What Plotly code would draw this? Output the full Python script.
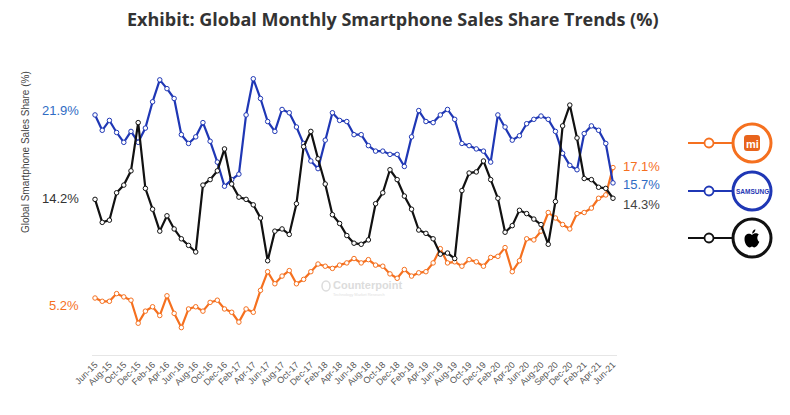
import plotly.graph_objects as go

# figure sized to fit inside the 790x415 window with the page's default 8px body margin
OFF = 8
W, H = 790 - 2 * OFF, 415 - 2 * OFF

# ---------------- data ----------------
months = []
mnames = ["Jan", "Feb", "Mar", "Apr", "May", "Jun", "Jul", "Aug", "Sep", "Oct", "Nov", "Dec"]
for k in range(73):
    m = (5 + k) % 12
    y = 15 + (5 + k) // 12
    months.append(f"{mnames[m]}-{y}")

tick_labels = ["Jun-15", "Aug-15", "Oct-15", "Dec-15", "Feb-16", "Apr-16", "Jun-16", "Aug-16",
               "Oct-16", "Dec-16", "Feb-17", "Apr-17", "Jun-17", "Aug-17", "Oct-17", "Dec-17",
               "Feb-18", "Apr-18", "Jun-18", "Aug-18", "Oct-18", "Dec-18", "Feb-19", "Apr-19",
               "Jun-19", "Aug-19", "Oct-19", "Dec-19", "Feb-20", "Apr-20", "Jun-20", "Aug-20",
               "Sep-20", "Dec-20", "Feb-21", "Apr-21", "Jun-21"]

samsung = [21.9, 20.5, 21.4, 20.3, 19.4, 20.4, 19.4, 20.7, 23.1, 25.1, 24.3, 23.4, 20.1,
           19.3, 19.9, 21.2, 19.5, 17.6, 15.4, 16.0, 16.5, 21.9, 25.2, 23.4, 21.3, 20.4,
           22.4, 22.1, 20.8, 19.3, 17.7, 17.0, 19.6, 22.1, 21.4, 21.3, 20.1, 20.1, 19.1,
           18.6, 18.6, 18.3, 18.3, 17.2, 19.9, 22.3, 21.3, 21.2, 21.9, 22.4, 21.5, 19.3,
           19.1, 18.8, 18.6, 17.6, 21.9, 20.8, 19.6, 20.0, 21.1, 21.5, 21.8, 21.5, 20.4,
           18.4, 17.3, 16.9, 20.2, 20.9, 20.5, 19.3, 15.7]

apple = [14.2, 12.1, 12.3, 14.8, 15.5, 16.8, 21.2, 15.2, 13.3, 11.3, 12.7, 11.5, 10.6,
         10.0, 9.4, 15.5, 16.0, 16.8, 18.8, 15.6, 14.4, 14.2, 13.7, 12.5, 8.6, 11.3,
         11.5, 11.0, 13.8, 19.0, 20.4, 17.9, 15.6, 12.8, 12.0, 10.9, 10.2, 10.1, 10.5,
         13.8, 14.8, 16.9, 16.0, 14.5, 13.3, 11.4, 11.1, 10.6, 9.2, 9.3, 8.8, 15.0,
         16.6, 16.7, 17.7, 16.0, 14.3, 11.2, 11.8, 13.2, 12.9, 12.4, 11.9, 10.1, 14.0,
         20.9, 22.8, 19.8, 16.1, 16.0, 15.3, 15.2, 14.3]

xiaomi = [5.2, 4.9, 4.9, 5.6, 5.3, 5.0, 2.9, 4.0, 4.4, 3.6, 5.4, 3.8, 2.5,
          4.2, 4.4, 4.0, 4.8, 5.0, 4.2, 3.9, 3.0, 4.2, 3.9, 5.9, 7.6, 6.5,
          7.2, 7.7, 6.5, 6.9, 7.6, 8.3, 8.1, 7.9, 8.2, 8.4, 8.8, 8.4, 8.7,
          8.2, 8.1, 7.4, 7.0, 7.8, 7.2, 7.5, 7.6, 8.4, 9.7, 8.4, 8.5, 8.1,
          8.7, 8.5, 8.1, 8.9, 9.0, 9.8, 7.6, 8.6, 10.6, 10.5, 11.3, 13.0, 12.5,
          11.9, 11.5, 12.9, 13.0, 13.4, 14.3, 14.6, 17.1]

# ---------------- style ----------------
BLUE = "#1f37b5"
BLACK = "#111111"
ORANGE = "#f5701f"
BLUE_TXT = "#2f6cc4"
GRAY_TXT = "#333333"

# plot area in window pixels
PL, PR, PT, PB = 92, 617, 70, 355


def fx(px):
    return (px - OFF) / W


def fy(py):
    return 1 - (py - OFF) / H


fig = go.Figure()

for name, vals, col in [("Xiaomi", xiaomi, ORANGE), ("Samsung", samsung, BLUE), ("Apple", apple, BLACK)]:
    fig.add_trace(go.Scatter(
        x=months, y=vals, mode="lines+markers", name=name,
        line=dict(color=col, width=2.2),
        marker=dict(symbol="circle", size=4.5, color="white", line=dict(color=col, width=1)),
        showlegend=False, hoverinfo="x+y+name",
    ))

fig.update_layout(
    width=W, height=H,
    margin=dict(l=0, r=0, t=0, b=0, pad=0),
    paper_bgcolor="white", plot_bgcolor="white",
    xaxis=dict(
        domain=[fx(PL), fx(PR)], type="category", range=[-0.42, 72.56],
        tickmode="array", tickvals=months[::2], ticktext=tick_labels,
        tickangle=-45, tickfont=dict(family="Liberation Sans, Arial", size=9, color="#555555"),
        showgrid=False, zeroline=False, showline=True, linecolor="#e6e6e6", linewidth=1,
        ticks="", automargin=False,
    ),
    yaxis=dict(
        domain=[fy(PB), fy(PT)], range=[0, 26], showticklabels=False,
        showgrid=False, zeroline=False, showline=False, ticks="", automargin=False,
    ),
    font=dict(family="Liberation Sans, Arial"),
)

ann = []
# title
ann.append(dict(x=fx(393), y=fy(19), xref="paper", yref="paper",
                text="<b>Exhibit: Global Monthly Smartphone Sales Share Trends (%)</b>",
                showarrow=False, font=dict(family="Open Sans", size=18, color="#333333"),
                xanchor="center", yanchor="middle"))
# y axis title
ann.append(dict(x=fx(25), y=fy(152), xref="paper", yref="paper",
                text="Global Smartphone Sales Share (%)", textangle=-90,
                showarrow=False, font=dict(size=10, color="#444444"),
                xanchor="center", yanchor="middle"))
# start values
for txt, py, col in [(f"{samsung[0]}%", 110, BLUE_TXT), (f"{apple[0]}%", 198, GRAY_TXT), (f"{xiaomi[0]}%", 305, ORANGE)]:
    ann.append(dict(x=fx(81), y=fy(py), xref="paper", yref="paper", text=txt, showarrow=False,
                    font=dict(size=13, color=col), xanchor="right", yanchor="middle"))
# end values
for txt, py, col in [(f"{xiaomi[-1]}%", 166, ORANGE), (f"{samsung[-1]}%", 185, BLUE_TXT), (f"{apple[-1]}%", 204, "#444444")]:
    ann.append(dict(x=fx(621), y=fy(py), xref="paper", yref="paper", text=txt, showarrow=False,
                    font=dict(size=13, color=col), xanchor="left", yanchor="middle"))
# watermark
ann.append(dict(x=fx(331), y=fy(285), xref="paper", yref="paper", text="<b>Counterpoint</b>",
                showarrow=False, font=dict(size=11, color="#dcdcdc"), xanchor="left", yanchor="middle"))
ann.append(dict(x=fx(331), y=fy(294), xref="paper", yref="paper", text="Technology Market Research",
                showarrow=False, font=dict(size=4, color="#e2e2e2"), xanchor="left", yanchor="middle"))

shapes = []
# watermark icon
shapes.append(dict(type="circle", xref="paper", yref="paper",
                   x0=fx(322), x1=fx(330), y0=fy(281), y1=fy(291),
                   line=dict(color="#dcdcdc", width=1.5)))

# legend-like logo markers
legend_rows = [(143, ORANGE), (191, BLUE), (238, BLACK)]
for cy, col in legend_rows:
    shapes.append(dict(type="line", xref="paper", yref="paper", x0=fx(688), x1=fx(734), y0=fy(cy), y1=fy(cy),
                       line=dict(color=col, width=2)))
    shapes.append(dict(type="circle", xref="paper", yref="paper", x0=fx(704.5), x1=fx(713.5),
                       y0=fy(cy - 4.5), y1=fy(cy + 4.5), fillcolor="white", line=dict(color=col, width=1.8)))
    shapes.append(dict(type="circle", xref="paper", yref="paper", x0=fx(733), x1=fx(771),
                       y0=fy(cy - 19), y1=fy(cy + 19), fillcolor="white", line=dict(color=col, width=3)))

# Xiaomi logo (rounded square)
cx, cy = 752, 143
s = 8
r = 3
path = (f"M {fx(cx-s+r)},{fy(cy-s)} L {fx(cx+s-r)},{fy(cy-s)} Q {fx(cx+s)},{fy(cy-s)} {fx(cx+s)},{fy(cy-s+r)} "
        f"L {fx(cx+s)},{fy(cy+s-r)} Q {fx(cx+s)},{fy(cy+s)} {fx(cx+s-r)},{fy(cy+s)} "
        f"L {fx(cx-s+r)},{fy(cy+s)} Q {fx(cx-s)},{fy(cy+s)} {fx(cx-s)},{fy(cy+s-r)} "
        f"L {fx(cx-s)},{fy(cy-s+r)} Q {fx(cx-s)},{fy(cy-s)} {fx(cx-s+r)},{fy(cy-s)} Z")
shapes.append(dict(type="path", xref="paper", yref="paper", path=path, fillcolor="#e8641c",
                   line=dict(width=0)))
ann.append(dict(x=fx(752), y=fy(143.5), xref="paper", yref="paper", text="<b>mi</b>", showarrow=False,
                font=dict(size=11, color="white"), xanchor="center", yanchor="middle"))

# Samsung wordmark
ann.append(dict(x=fx(752), y=fy(191), xref="paper", yref="paper", text="<b>SAMSUNG</b>", showarrow=False,
                font=dict(size=6.5, color=BLUE), xanchor="center", yanchor="middle"))

# Apple logo
ax, ay = 752, 239


def P(dx, dy):
    return f"{fx(ax + dx):.5f},{fy(ay + dy):.5f}"


apple_path = (f"M {P(0,-4)} C {P(-2,-6)} {P(-7.5,-6)} {P(-7.5,0)} "
              f"C {P(-7.5,4.5)} {P(-4.5,8.5)} {P(-2.2,8.5)} "
              f"C {P(-1,8.5)} {P(-1,7.6)} {P(0,7.6)} "
              f"C {P(1,7.6)} {P(1,8.5)} {P(2.2,8.5)} "
              f"C {P(4.5,8.5)} {P(6.5,5)} {P(7.3,2.8)} "
              f"C {P(5,1.6)} {P(4.6,-3)} {P(6.8,-4.2)} "
              f"C {P(5.2,-6.3)} {P(2,-6)} {P(0,-4)} Z "
              f"M {P(0.2,-5.2)} C {P(0.1,-7.6)} {P(1.6,-9.3)} {P(3.4,-9.7)} "
              f"C {P(3.5,-7.6)} {P(2,-5.8)} {P(0.2,-5.2)} Z")
shapes.append(dict(type="path", xref="paper", yref="paper", path=apple_path, fillcolor="black",
                   line=dict(width=0)))

fig.update_layout(annotations=ann, shapes=shapes)

fig.write_html("out.html")
